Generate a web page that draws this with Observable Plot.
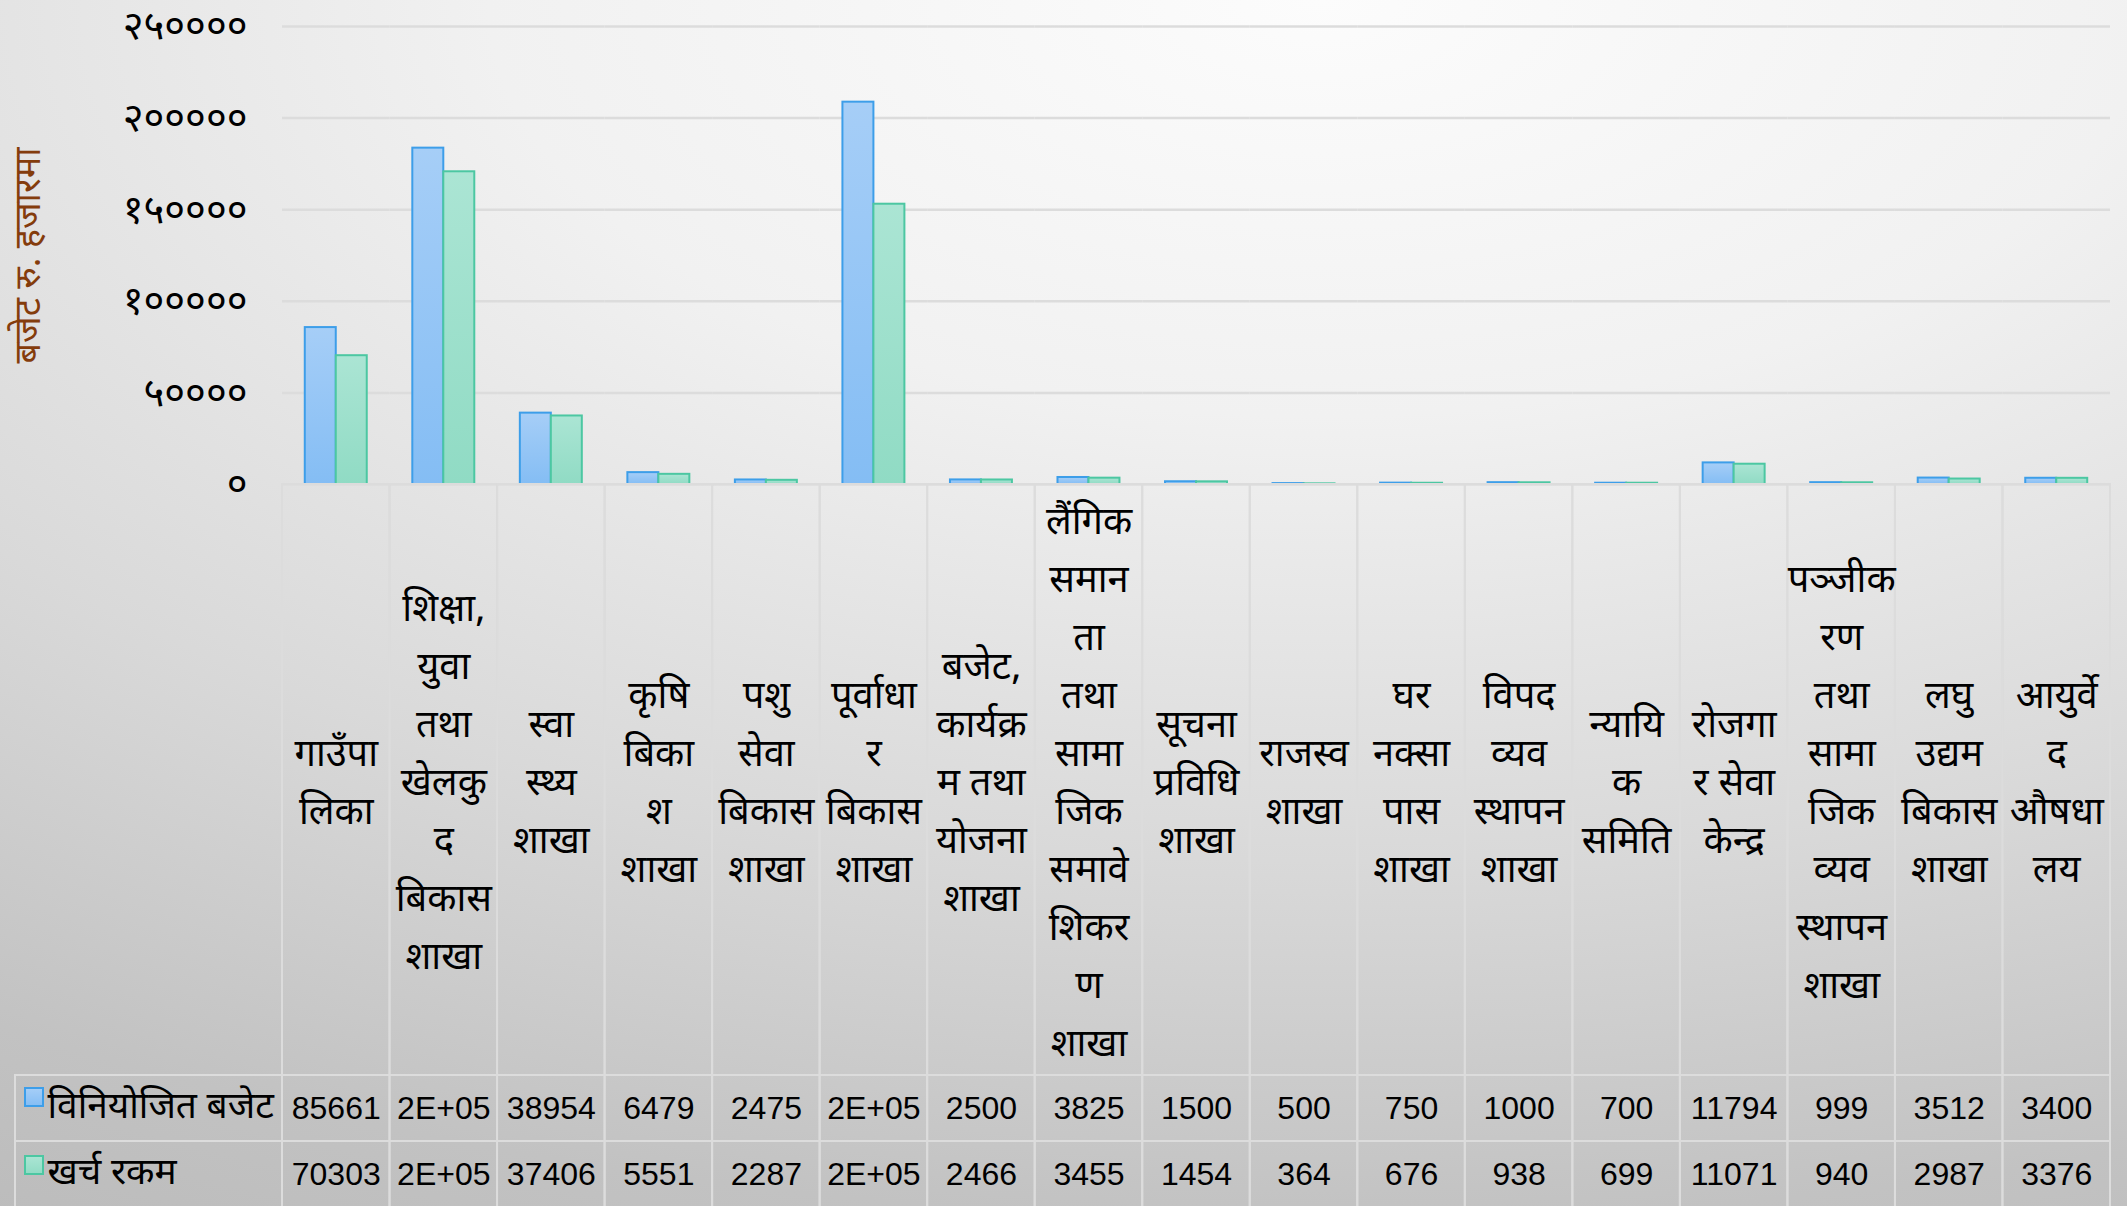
<!DOCTYPE html>
<html>
<head>
<meta charset="utf-8">
<script src="https://cdn.jsdelivr.net/npm/d3@7"></script>
<script src="https://cdn.jsdelivr.net/npm/@observablehq/plot@0.6"></script>
<style>
  html, body { margin: 0; padding: 0; }
  body {
    width: 2127px; height: 1206px; overflow: hidden;
    background: radial-gradient(ellipse 130% 115% at 62% 0%, #fcfcfc 0%, #f1f1f1 30%, #d9d9d9 62%, #c2c2c2 88%, #bcbcbc 100%);
  }
  #chart svg { display: block; }
</style>
</head>
<body>
<div id="chart"></div>
<script>
// ---------- data ----------
const categories = [
  "गाउँपा\nलिका",
  "शिक्षा,\nयुवा\nतथा\nखेलकु\nद\nबिकास\nशाखा",
  "स्वा\nस्थ्य\nशाखा",
  "कृषि\nबिका\nश\nशाखा",
  "पशु\nसेवा\nबिकास\nशाखा",
  "पूर्वाधा\nर\nबिकास\nशाखा",
  "बजेट,\nकार्यक्र\nम तथा\nयोजना\nशाखा",
  "लैंगिक\nसमान\nता\nतथा\nसामा\nजिक\nसमावे\nशिकर\nण\nशाखा",
  "सूचना\nप्रविधि\nशाखा",
  "राजस्व\nशाखा",
  "घर\nनक्सा\nपास\nशाखा",
  "विपद\nव्यव\nस्थापन\nशाखा",
  "न्यायि\nक\nसमिति",
  "रोजगा\nर सेवा\nकेन्द्र",
  "पञ्जीक\nरण\nतथा\nसामा\nजिक\nव्यव\nस्थापन\nशाखा",
  "लघु\nउद्यम\nबिकास\nशाखा",
  "आयुर्वे\nद\nऔषधा\nलय"
];
const allocated = [85661, 183600, 38954, 6479, 2475, 208700, 2500, 3825, 1500, 500, 750, 1000, 700, 11794, 999, 3512, 3400];
const spent     = [70303, 170700, 37406, 5551, 2287, 153000, 2466, 3455, 1454, 364, 676, 938, 699, 11071, 940, 2987, 3376];
const seriesNames = ["विनियोजित बजेट", "खर्च रकम"];
const yTicks = [0, 50000, 100000, 150000, 200000, 250000];
const axisTitle = "बजेट रु. हजारमा";

// ---------- layout ----------
const W = 2127, H = 1206;
const mL = 282, mR = 17, mT = 26, mB = 722;
const innerH = H - mT - mB;
const fw = (W - mL - mR) / categories.length;
const baseY = H - mB;
const rowTop1 = 1075, rowTop2 = 1141;

const devFont = "'Noto Sans Devanagari','Lohit Devanagari','Mukta','Mangal','Kalimati','FreeSans','Noto Sans',sans-serif";
const numFont = "'Liberation Sans','DejaVu Sans',sans-serif";

const devDigits = "०१२३४५६७८९";
const toDev = (v) => String(v).replace(/\d/g, (c) => devDigits[+c]);
const fmtCell = (v) => v >= 100000 ? (v / 1e5).toFixed(0) + "E+05" : String(v);

const rowsA = categories.map((c, i) => ({cat: c, series: seriesNames[0], value: allocated[i]}));
const rowsB = categories.map((c, i) => ({cat: c, series: seriesNames[1], value: spent[i]}));
const first = [categories[0]];

// inset helper relative to the first facet's frame
function box(x0, x1, y0, y1) {
  return {insetLeft: x0 - mL, insetRight: (mL + fw) - x1, insetTop: y0 - mT, insetBottom: baseY - y1};
}
const gridColor = "#dcdcdc";

const chart = Plot.plot({
  width: W, height: H,
  marginLeft: mL, marginRight: mR, marginTop: mT, marginBottom: mB,
  style: {background: "transparent", fontSize: "40px", fontFamily: devFont, color: "black"},
  fx: {domain: categories, axis: null, padding: 0, round: false},
  x: {domain: seriesNames, axis: null, paddingInner: 0, paddingOuter: 0.735, round: false},
  y: {domain: [0, 250000], ticks: yTicks, tickFormat: toDev, tickSize: 0, tickPadding: 35, label: null},
  marks: [
    Plot.ruleY(yTicks, {stroke: gridColor, strokeWidth: 2.5}),
    Plot.barY(rowsA, {fx: "cat", x: "series", y: "value", fill: "url(#gBlue)", stroke: "#3d9ee9", strokeWidth: 2}),
    Plot.barY(rowsB, {fx: "cat", x: "series", y: "value", fill: "url(#gGreen)", stroke: "#4cc7a2", strokeWidth: 2}),
    // table cells
    Plot.rect(categories, {fx: (d) => d, insetTop: innerH, insetBottom: -(rowTop1 - baseY), fill: "none", stroke: gridColor, strokeWidth: 2}),
    Plot.rect(categories, {fx: (d) => d, insetTop: innerH + (rowTop1 - baseY), insetBottom: -(rowTop2 - baseY), fill: "none", stroke: gridColor, strokeWidth: 2}),
    Plot.rect(categories, {fx: (d) => d, insetTop: innerH + (rowTop2 - baseY), insetBottom: -(H - baseY) - 4, fill: "none", stroke: gridColor, strokeWidth: 2}),
    Plot.rect(first, {fx: (d) => d, ...box(15, mL, rowTop1, rowTop2), fill: "none", stroke: gridColor, strokeWidth: 2}),
    Plot.rect(first, {fx: (d) => d, ...box(15, mL, rowTop2, H + 4), fill: "none", stroke: gridColor, strokeWidth: 2}),
    // category labels
    Plot.text(categories, {fx: (d) => d, text: (d) => d, frameAnchor: "bottom", dy: 292, lineAnchor: "middle", lineHeight: 58 / 38, fontSize: 38, fontFamily: devFont, fill: "black"}),
    // data table values
    Plot.text(rowsA, {fx: "cat", text: (d) => fmtCell(d.value), frameAnchor: "bottom", dy: 624, lineAnchor: "middle", fontSize: 32, fontFamily: numFont, fill: "black"}),
    Plot.text(rowsB, {fx: "cat", text: (d) => fmtCell(d.value), frameAnchor: "bottom", dy: 690, lineAnchor: "middle", fontSize: 32, fontFamily: numFont, fill: "black"}),
    // legend keys
    Plot.rect(first, {fx: (d) => d, ...box(25, 43, 1088, 1106), fill: "url(#gBlue)", stroke: "#3d9ee9", strokeWidth: 2}),
    Plot.rect(first, {fx: (d) => d, ...box(25, 43, 1156, 1174), fill: "url(#gGreen)", stroke: "#4cc7a2", strokeWidth: 2}),
    Plot.text(first, {fx: (d) => d, text: () => seriesNames[0], frameAnchor: "bottom-left", dx: 47 - mL, dy: 622, textAnchor: "start", lineAnchor: "middle", fontSize: 37, fontFamily: devFont, fill: "black"}),
    Plot.text(first, {fx: (d) => d, text: () => seriesNames[1], frameAnchor: "bottom-left", dx: 47 - mL, dy: 688, textAnchor: "start", lineAnchor: "middle", fontSize: 37, fontFamily: devFont, fill: "black"}),
    // y axis title
    Plot.text(first, {fx: (d) => d, text: () => axisTitle, frameAnchor: "left", dx: 28 - mL, rotate: -90, textAnchor: "middle", lineAnchor: "middle", fontSize: 36, fontFamily: devFont, fill: "#843c0c"})
  ]
});

const svg = d3.select(chart);
const defs = svg.insert("defs", ":first-child");
function grad(id, c0, c1) {
  const g = defs.append("linearGradient").attr("id", id).attr("x1", 0).attr("y1", 0).attr("x2", 0).attr("y2", 1);
  g.append("stop").attr("offset", "0%").attr("stop-color", c0);
  g.append("stop").attr("offset", "100%").attr("stop-color", c1);
}
grad("gBlue", "#a6cef7", "#84bdf4");
grad("gGreen", "#abe5d4", "#90dbc4");

document.getElementById("chart").appendChild(chart);
</script>
</body>
</html>
